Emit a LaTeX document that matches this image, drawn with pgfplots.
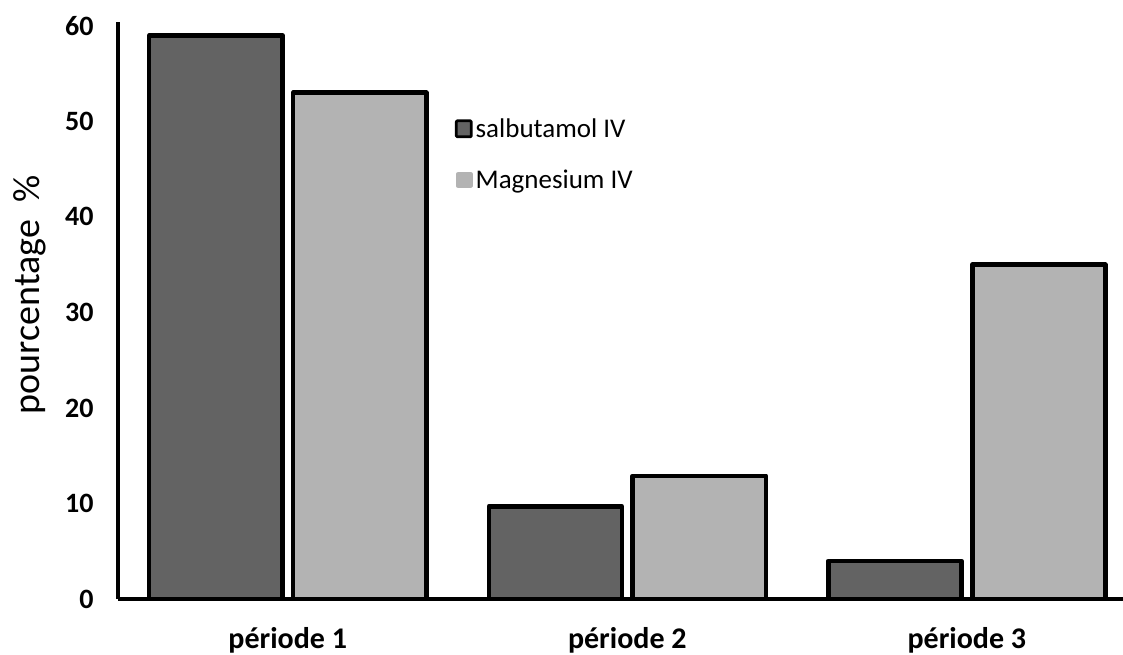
\documentclass[border=0pt]{standalone}
\usepackage{pgfplots}
\pgfplotsset{compat=1.18}
\usepackage{fontspec}
\setmainfont{Carlito}
\definecolor{darkbar}{HTML}{636363}
\definecolor{lightbar}{HTML}{B3B3B3}
\pgfkeys{/pgf/number format/assume math mode=true}
\begin{document}
\begin{tikzpicture}
\begin{axis}[
  at={(118bp,56bp)}, anchor=south west,
  scale only axis,
  width=1005bp, height=577bp,
  xmin=-0.5, xmax=2.46,
  ymin=0, ymax=60.4,
  axis lines=left,
  axis line style={line width=4.5bp, -},
  major tick length=0pt,
  xtick={0,1,2},
  xticklabels={période 1, période 2, période 3},
  ytick={0,10,20,30,40,50,60},
  xticklabel style={font=\fontsize{30bp}{34bp}\selectfont\bfseries, yshift=-25bp},
  yticklabel style={font=\fontsize{28bp}{32bp}\selectfont\bfseries, xshift=-21bp},
  ylabel={pourcentage\ \ \%},
  ylabel style={font=\fontsize{38bp}{42bp}\selectfont, at={(axis description cs:-0.088,0.527)}, anchor=center},
  legend style={at={(axis description cs:0.335,0.838)}, anchor=north west, draw=none, fill=none,
    font=\fontsize{27bp}{30bp}\selectfont, row sep=25bp, inner sep=0pt,
    nodes={inner sep=3bp}},
  legend cell align=left,
  clip=false,
]
\addplot[ybar, bar width=0.392, bar shift=-0.212, fill=darkbar, draw=black, line width=4.5bp, line join=round,
  legend image code/.code={\draw[fill=darkbar, draw=black, line width=2.8bp, rounded corners=1bp] (0bp,-8bp) rectangle (15bp,8bp);}]
  coordinates {(0,59) (1,9.7) (2,4)};
\addlegendentry{salbutamol IV}
\addplot[ybar, bar width=0.392, bar shift=0.212, fill=lightbar, draw=black, line width=4.5bp, line join=round,
  legend image code/.code={\fill[lightbar] (2bp,-6bp) rectangle (14bp,6bp);}]
  coordinates {(0,53) (1,12.9) (2,35)};
\addlegendentry{Magnesium IV}
\end{axis}
\pgfresetboundingbox
\path[use as bounding box] (0,0) rectangle (1123bp,655bp);
\end{tikzpicture}
\end{document}
